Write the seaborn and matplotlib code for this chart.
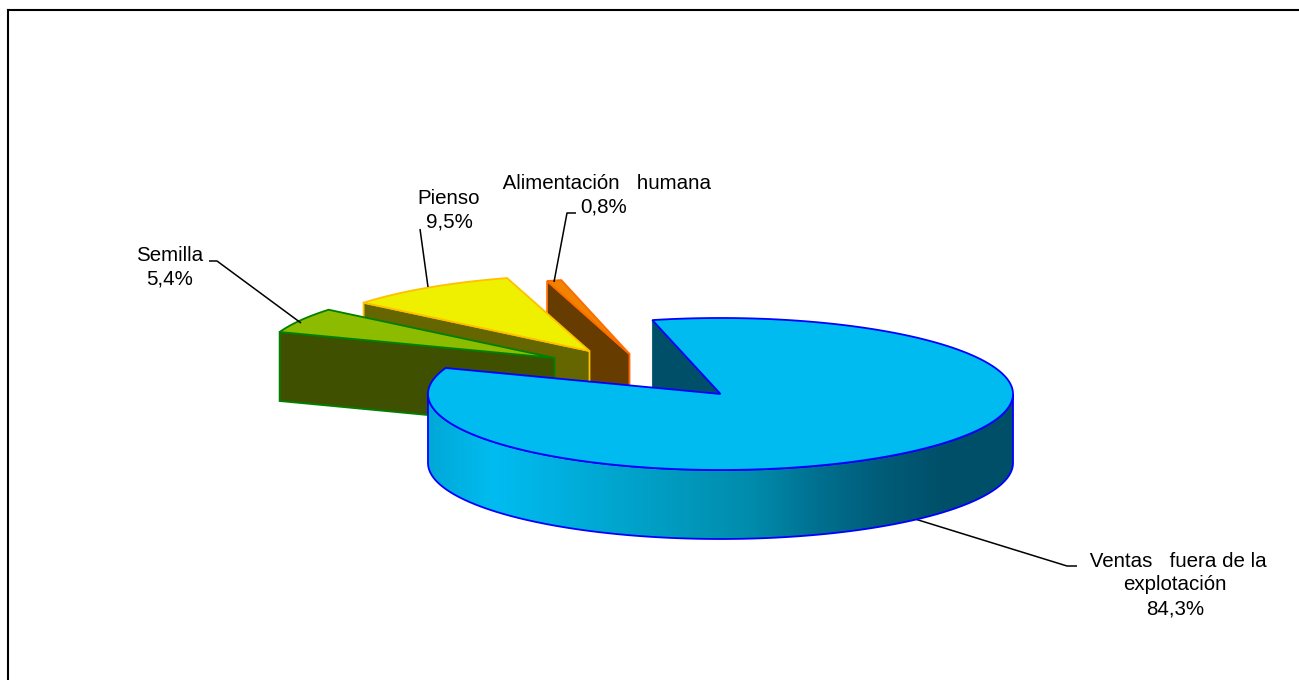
import numpy as np
import matplotlib.pyplot as plt
from matplotlib.patches import Polygon
import seaborn as sns

# Porcentajes, en el orden en que se recorre la tarta
labels = ["Ventas   fuera de la\nexplotación", "Alimentación   humana", "Pienso", "Semilla"]
values = [84.3, 0.8, 9.5, 5.4]
value_labels = ["84,3%", "0,8%", "9,5%", "5,4%"]

top_colors = ["#00BBEF", "#F08400", "#EFEF00", "#8CBB00"]
side_colors = ["#004F68", "#663C00", "#666600", "#3F5000"]
edge_colors = ["#0000FF", "#FF6A00", "#FFC000", "#008000"]

CENTER_X, CENTER_Y = 720.5, 394
RADIUS_X, RADIUS_Y = 292.5, 76
DEPTH = 69
START_ANGLE = 160
EDGE_WIDTH = 1.3

# desplazamiento de cada porcion separada, en pixeles
offsets = [(0, 0), (-91, -40), (-131, -43), (-166, -36)]
text_positions = [(1175, 585), (604, 195), (449, 210), (170, 267)]
leaders = [
    [(1077, 566), (1067, 566), (915, 519)],
    [(576, 213), (567, 213), (554, 282)],
    [(420, 229), (428, 287)],
    [(209, 261), (217, 261), (301, 323)],
]

# sombreado del lateral de la porcion grande, de izquierda a derecha
side_stops = ["#00A8D8", "#00BCF0", "#00B0E0", "#00A4CC", "#0098BC", "#008BAC", "#007090", "#005C78", "#004F68", "#00506A"]

sns.set_theme(style="white")
plt.rcParams['font.family'] = ['Liberation Sans', 'DejaVu Sans']

fig = plt.figure(figsize=(12.99, 6.8), dpi=100)
ax = fig.add_axes([8 / 1299, 0, 1291 / 1299, 670 / 680])


def rim(angle, dx=0, dy=0):
    angle = np.radians(angle)
    return np.column_stack([CENTER_X + dx + RADIUS_X * np.cos(angle), CENTER_Y + dy - RADIUS_Y * np.sin(angle)])


edges = START_ANGLE + np.cumsum([0] + values) * 3.6
slices = [(i, edges[i], edges[i + 1]) for i in range(len(values))]

# primero las porciones separadas, de atras hacia delante
for i, a0, a1 in slices[1:]:
    dx, dy = offsets[i]
    apex = np.array([CENTER_X + dx, CENTER_Y + dy])
    arc = rim(np.linspace(a0, a1, 60), dx, dy)
    cut = arc[-1]
    face = [cut, apex, apex + (0, DEPTH), cut + (0, DEPTH)]
    ax.add_patch(Polygon(face, facecolor=side_colors[i], edgecolor=edge_colors[i], lw=EDGE_WIDTH))
    ax.add_patch(Polygon(np.vstack([arc, apex]), facecolor=top_colors[i], edgecolor=edge_colors[i], lw=EDGE_WIDTH))

# porcion grande: cara interior, lateral con degradado y tapa
i, a0, a1 = slices[0]
apex = np.array([CENTER_X, CENTER_Y])
arc = rim(np.linspace(a0, a1, 400))
cut = arc[-1]
face = [cut, apex, apex + (0, DEPTH), cut + (0, DEPTH)]
ax.add_patch(Polygon(face, facecolor=side_colors[i], edgecolor=side_colors[i], lw=0.5))

front = rim(np.linspace(180, 360, 300))
wall = Polygon(np.vstack([front, (front + (0, DEPTH))[::-1]]), facecolor="none", edgecolor=edge_colors[i], lw=EDGE_WIDTH, zorder=3)
ax.add_patch(wall)
shade = ax.imshow(
    np.linspace(0, 1, 512).reshape(1, -1),
    cmap=sns.blend_palette(side_stops, as_cmap=True),
    extent=(CENTER_X - RADIUS_X, CENTER_X + RADIUS_X, CENTER_Y + RADIUS_Y + DEPTH, CENTER_Y),
    aspect="auto",
    zorder=2,
)
shade.set_clip_path(wall)

ax.add_patch(Polygon(np.vstack([arc, apex]), facecolor=top_colors[i], edgecolor=edge_colors[i], lw=EDGE_WIDTH, zorder=4))

# lineas guia y textos
for leader in leaders:
    xs, ys = zip(*leader)
    ax.plot(xs, ys, color="black", lw=1.1, zorder=1.5, solid_capstyle="butt")

for label, value, (x, y) in zip(labels, value_labels, text_positions):
    first = " " + label if label.startswith(("Ventas", "Alimentación")) else label
    ax.text(x, y, f"{first}\n{value}", ha="center", va="center", multialignment="center",
            fontsize=14.8, color="black", linespacing=1.32, zorder=5)

ax.set_xlim(8, 1299)
ax.set_ylim(680, 10)
ax.set_xticks([])
ax.set_yticks([])
sns.despine(ax=ax, top=False, left=False, right=True, bottom=True)
for side in ["top", "left"]:
    ax.spines[side].set_color("black")
    ax.spines[side].set_linewidth(1.5)

fig.savefig("out.png", dpi=100)
